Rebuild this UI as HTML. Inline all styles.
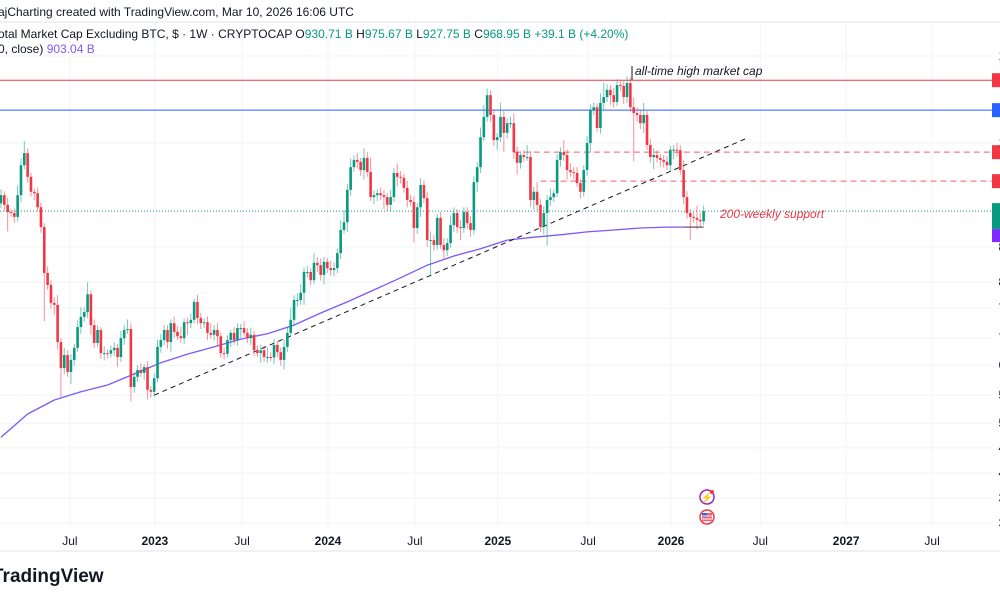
<!DOCTYPE html>
<html><head><meta charset="utf-8"><style>
html,body{margin:0;padding:0;background:#fff;width:1000px;height:600px;overflow:hidden;font-family:"Liberation Sans",sans-serif;}
svg{display:block}
</style></head><body>
<svg id="chart" width="1000" height="600" viewBox="0 0 1000 600" xmlns="http://www.w3.org/2000/svg" font-family="Liberation Sans, sans-serif">
<g id="grid"></g>
<line x1="0" y1="22" x2="1000" y2="22" stroke="#e0e3eb" stroke-width="1"/>
<text x="-2" y="16" font-size="12" fill="#131722">ajCharting created with TradingView.com, Mar 10, 2026 16:06 UTC</text>
<text x="-2" y="38" font-size="12" fill="#131722">otal Market Cap Excluding BTC, $ · 1W · CRYPTOCAP  O<tspan fill="#089981">930.71 B</tspan>  H<tspan fill="#089981">975.67 B</tspan>  L<tspan fill="#089981">927.75 B</tspan>  C<tspan fill="#089981">968.95 B</tspan>  <tspan fill="#089981">+39.1 B (+4.20%)</tspan></text>
<text x="-2" y="53" font-size="12" fill="#131722">0, close)  <tspan fill="#7e57ff">903.04 B</tspan></text>
<g id="levels"></g>
<g id="ma"></g>
<g id="trend"></g>
<g id="candles"></g>
<g id="notes"></g>
<g id="xaxis"></g>
<g id="yaxis"></g>
<line x1="0" y1="551" x2="1000" y2="551" stroke="#e0e3eb"/>
<text x="-8" y="582" font-size="19" font-weight="bold" fill="#131722">TradingView</text>
<g><circle cx="707" cy="497" r="7" fill="#fff" stroke="#9c27b0" stroke-width="1.5"/><text x="707" y="501" font-size="10" text-anchor="middle" fill="#9c27b0">⚡</text><circle cx="712" cy="492" r="2" fill="#f23645"/></g>
<g><circle cx="707" cy="517" r="7" fill="#fff" stroke="#f23645" stroke-width="1.5"/><rect x="702" y="513" width="10" height="8" fill="#f23645" opacity="0.8"/><rect x="702" y="513" width="5" height="4" fill="#2962ff"/><line x1="702" y1="516" x2="712" y2="516" stroke="#fff"/><line x1="702" y1="519" x2="712" y2="519" stroke="#fff"/></g>
</svg>
<script>
const closes = [1002,982,967,965,957,1002,1064,1089,1040,1009,1006,977,936,841,816,779,775,698,644,671,636,661,686,729,750,760,797,733,696,723,675,675,674,681,686,667,706,723,725,605,626,640,634,646,599,595,623,688,702,
723,698,737,719,710,
706,739,737,744,781,748,737,739,717,713,723,710,675,674,702,717,702,727,727,717,706,713,681,675,681,667,667,666,692,677,661,688,717,744,785,785,800,843,843,826,862,857,837,864,851,847,851,882,930,946,1013,1060,1075,1071,
1054,1079,1050,998,1002,1006,1002,998,982,998,1048,1040,1038,1017,992,988,934,977,1023,996,909,909,899,955,899,888,903,940,965,936,934,967,944,930,1029,1060,1122,1164,1209,1168,1116,1122,1164,1131,1151,1151,1091,1069,1085,1081,1081,992,1009,982,
936,965,992,998,1006,1075,1091,1085,1054,1050,1048,1027,1009,1054,1110,1178,1184,1141,1193,1205,1220,1209,1195,1230,1228,1205,1234,1184,1172,1168,1151,1168,1106,1081,1085,1079,1075,1071,1064,1096,1096,1095,1054,998,965,957,955,951,948,969];
const firstOpen = 985;
const wickUp = [12,8,15,6,10,20,14,25,10,8,6,12,10,8,14,10,12,20,8,15,
10,12,8,14,20,10,25,8,12,10,6,14,8,10,12,8,15,10,20,12,
8,10,14,6,12,8,10,15,12,10,10,8,14,12,20,8,10,12,6,15,
10,8,12,20,10,14,8,12,10,6,12,10,8,14,10,15,8,10,12,8,
20,10,12,8,10,15,12,25,10,14,18,10,12,8,20,12,14,10,8,15,
12,10,20,25,12,18,10,14,8,20,12,30,10,8,12,10,8,14,10,20,
12,8,15,10,12,8,14,10,12,18,10,8,12,14,10,20,12,8,14,10,
10,15,12,10,20,25,14,10,12,8,30,12,10,14,20,12,8,10,25,12,
10,20,12,14,10,18,8,12,10,25,12,14,10,12,8,10,14,12,10,8,
20,30,12,10,15,12,8,10,14,12,20,12,10,25,8,12,14,10,8,10,
12,8,10,14,10,20,12,8,10,25,15,12];
const wickDn = [10,12,40,8,12,10,15,8,12,10,14,8,12,100,10,12,20,15,60,12,
10,25,12,8,14,10,12,20,10,8,12,15,10,8,12,20,10,14,8,30,
12,10,8,14,20,12,10,8,12,10,14,20,12,8,10,12,25,10,8,14,
12,10,15,8,12,20,10,12,8,14,10,12,20,8,10,14,12,8,20,10,
12,8,14,10,12,20,10,8,12,14,10,25,12,10,8,14,12,20,10,12,
14,10,12,8,20,12,10,14,12,20,10,8,14,12,10,25,12,14,10,20,
12,10,15,8,30,12,20,10,14,76,12,10,8,20,12,10,14,12,25,10,
12,14,10,20,12,8,10,14,12,20,10,40,12,10,14,25,12,10,8,14,
20,12,10,15,68,12,10,8,14,12,20,10,12,8,14,10,12,20,10,8,
12,14,10,20,12,8,10,14,12,10,100,14,12,20,10,12,25,10,14,12,
10,12,20,14,10,15,12,48,10,20,12,8];
const maIndex = [0,8,16,24,32,40,48,56,64,72,80,88,96,104,112,120,128,136,144,152,160,168,176,184,192,200,208,211];
const maValues = [501,549,578,595,609,632,655,673,688,704,715,733,758,781,806,831,857,876,891,909,915,920,926,930,934,936,936,936];
const levelValues = [1240,1178,1091,1031];
const levelStart = [null,null,154,162];
const trendIdx = [46,224];
const trendVals = [588,1120];
const gridVals = [1290,1110,895,822,768,706,650,588,530,479,427,375,323];
const xLabels = ["Jul","2023","Jul","2024","Jul","2025","Jul","2026","Jul","2027","Jul"];
const xLabelIdx = [20.7,46.2,72.4,98.2,124.3,149.2,176.3,201.2,228,253.8,279.6];
const lastClose = 968.95;

const NS="http://www.w3.org/2000/svg";
const X0=1, STEP=3.33, PLOT_R=992;
function xS(i){return X0+i*STEP;}
function yS(v){return (1406-v)/2.07;}
function el(tag,attrs,parent){const e=document.createElementNS(NS,tag);for(const k in attrs)e.setAttribute(k,attrs[k]);parent.appendChild(e);return e;}
const G=id=>document.getElementById(id);

const grid=G('grid');
gridVals.forEach(v=>{const l=el('line',{x1:0,x2:PLOT_R,y1:yS(v),y2:yS(v),stroke:'#f0f3fa','stroke-width':1},grid);

});
xLabelIdx.forEach(i=>{const l=el('line',{x1:xS(i),x2:xS(i),y1:22,y2:527,stroke:'#f0f3fa','stroke-width':1},grid);

});

const xa=G('xaxis');
xLabels.forEach((t,k)=>{const bold=/^\d/.test(t);const e=el('text',{x:xS(xLabelIdx[k]),y:545,'font-size':12,'text-anchor':'middle',fill:'#131722','font-weight':bold?'bold':'normal'},xa);e.textContent=t;

});

const ya=G('yaxis');
gridVals.forEach(v=>{const e=el('text',{x:998.5,y:yS(v)+4,'font-size':12,fill:'#131722'},ya);e.textContent=(v).toFixed(2)+' B';

});

const lv=G('levels');
const lvColors=['#f23645','#2962ff','#f23645','#f23645'];
levelValues.forEach((v,k)=>{const x1=levelStart[k]===null?0:xS(levelStart[k]);
const a={x1:x1,x2:PLOT_R,y1:yS(v),y2:yS(v),stroke:lvColors[k],'stroke-width':1};
if(k>=2){a['stroke-dasharray']='6 4';a['stroke-opacity']=0.8;}
const l=el('line',a,lv);


const r=el('rect',{x:PLOT_R,y:yS(v)-7,width:10,height:14,fill:lvColors[k]},lv);

});
const cl=el('line',{x1:0,x2:PLOT_R,y1:yS(lastClose),y2:yS(lastClose),stroke:'#089981','stroke-width':1,'stroke-dasharray':'1 2'},lv);


const cb=el('rect',{x:PLOT_R,y:yS(lastClose)-8,width:10,height:26,fill:'#089981'},lv);


const mb=el('rect',{x:PLOT_R,y:yS(lastClose)+18,width:10,height:13,fill:'#7e2bff'},lv);



const ma=G('ma');
const pts=maIndex.map((i,k)=>xS(i).toFixed(1)+','+yS(maValues[k]).toFixed(1)).join(' ');
const mp=el('polyline',{points:pts,fill:'none',stroke:'#7e57ff','stroke-width':1.3,'stroke-linejoin':'round'},ma);



const tr=G('trend');
const tl=el('line',{x1:xS(trendIdx[0]),y1:yS(trendVals[0]),x2:xS(trendIdx[1]),y2:yS(trendVals[1]),stroke:'#131722','stroke-width':1,'stroke-dasharray':'5 4'},tr);



const cg=G('candles');
let prev=firstOpen;
closes.forEach((c,i)=>{const o=prev;prev=c;const up=c>=o;const col=up?'#089981':'#f23645';
const hi=Math.max(o,c)+wickUp[i], lo=Math.min(o,c)-wickDn[i];const x=xS(i);
const w=el('line',{x1:x,x2:x,y1:yS(hi),y2:yS(lo),stroke:col,'stroke-opacity':0.55,'stroke-width':1},cg);


const top=yS(Math.max(o,c)),bot=yS(Math.min(o,c));
const b=el('rect',{x:x-1.3,y:top,width:2.6,height:Math.max(1,bot-top),fill:col},cg);

});

const nt=G('notes');
const a1=el('text',{x:635,y:75,'font-size':12,'font-style':'italic',fill:'#131722'},nt);a1.textContent='all-time high market cap';


const a1l=el('line',{x1:632,y1:66,x2:632,y2:80,stroke:'#131722','stroke-width':1},nt);


const a2=el('text',{x:720,y:218,'font-size':12,'font-style':'italic',fill:'#f23645'},nt);a2.textContent='200-weekly support';


const a2l=el('line',{x1:xS(205),y1:yS(maValues[maValues.length-1]),x2:xS(211),y2:yS(maValues[maValues.length-1]),stroke:'#555','stroke-width':1},nt);


</script>
</body></html>
